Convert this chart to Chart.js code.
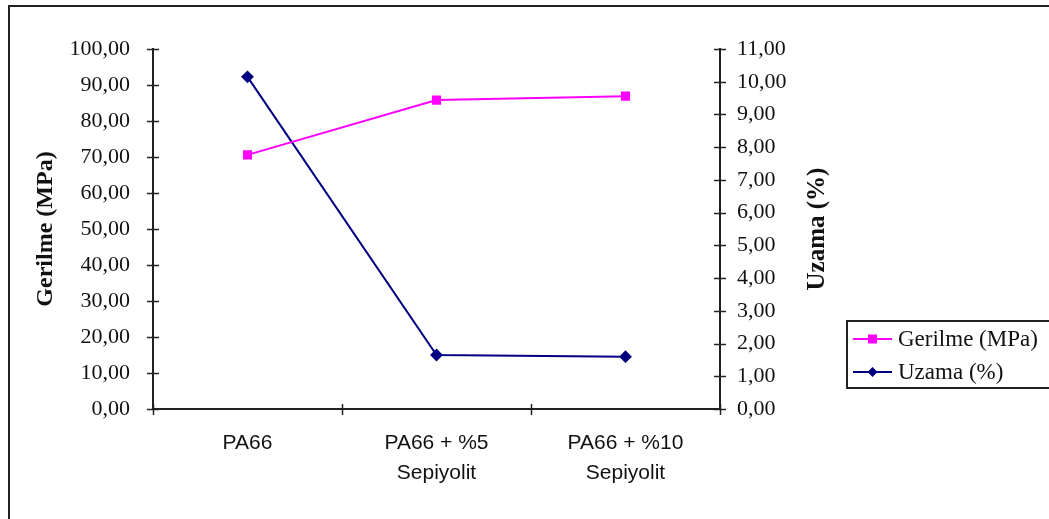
<!DOCTYPE html>
<html>
<head>
<meta charset="utf-8">
<script src="https://cdn.jsdelivr.net/npm/chart.js@4/dist/chart.umd.min.js"></script>
<style>
  html, body { margin: 0; padding: 0; background: #fff; }
  #wrap { width: 1049px; height: 519px; position: relative; }
</style>
</head>
<body>
<div id="wrap"><canvas id="c" width="1049" height="519"></canvas></div>
<script>
// ---- data ----
const categories = [["PA66"], ["PA66 + %5", "Sepiyolit"], ["PA66 + %10", "Sepiyolit"]];
const gerilmeLabel = "Gerilme (MPa)";
const uzamaLabel = "Uzama (%)";
const gerilmeValues = [70.6, 85.8, 86.9];
const uzamaValues = [10.15, 1.65, 1.6];
const leftAxisTitle = "Gerilme (MPa)";
const rightAxisTitle = "Uzama (%)";
const leftMin = 0, leftMax = 100, leftStep = 10;
const rightMin = 0, rightMax = 11, rightStep = 1;

const PINK = '#FF00FF';
const NAVY = '#000080';
const serif = "'Liberation Serif', 'Times New Roman', serif";
const sans = "'Liberation Sans', Arial, sans-serif";
const fmt = v => Number(v).toFixed(2).replace('.', ',');

const decorPlugin = {
  id: 'decor',
  beforeDraw(chart) {
    const ctx = chart.ctx;
    ctx.save();
    ctx.fillStyle = '#fff';
    ctx.fillRect(0, 0, chart.width, chart.height);
    ctx.strokeStyle = '#222';
    ctx.lineWidth = 2;
    ctx.strokeRect(9, 6, 1200, 700);
    ctx.restore();
  },
  afterDraw(chart) {
    const ctx = chart.ctx;
    const {x, y, y1} = chart.scales;
    ctx.save();
    ctx.strokeStyle = '#222';
    ctx.lineWidth = 1.5;
    // tick marks crossing axes
    y.ticks.forEach((t, i) => {
      const py = Math.round(y.getPixelForTick(i)) + 0.5;
      ctx.beginPath(); ctx.moveTo(x.left - 6, py); ctx.lineTo(x.left + 6, py); ctx.stroke();
    });
    y1.ticks.forEach((t, i) => {
      const py = Math.round(y1.getPixelForTick(i)) + 0.5;
      ctx.beginPath(); ctx.moveTo(x.right - 6, py); ctx.lineTo(x.right + 6, py); ctx.stroke();
    });
    for (let i = 0; i <= categories.length; i++) {
      const px = Math.round(x.getPixelForValue(i - 0.5)) + 0.5;
      ctx.beginPath(); ctx.moveTo(px, y.bottom - 5); ctx.lineTo(px, y.bottom + 6); ctx.stroke();
    }
    // right axis title (reads bottom-to-top)
    ctx.save();
    ctx.translate(818, (chart.chartArea.top + chart.chartArea.bottom) / 2);
    ctx.rotate(-Math.PI / 2);
    ctx.font = "bold 25px " + serif;
    ctx.fillStyle = '#111';
    ctx.textAlign = 'center';
    ctx.textBaseline = 'middle';
    ctx.fillText(rightAxisTitle, 0, 0);
    ctx.restore();
    // legend
    ctx.lineWidth = 2;
    ctx.strokeStyle = '#222';
    ctx.strokeRect(847, 321, 300, 67);
    chart.data.datasets.forEach((ds, i) => {
      const ry = 339 + i * 33;
      ctx.strokeStyle = ds.borderColor;
      ctx.lineWidth = 2;
      ctx.beginPath(); ctx.moveTo(853, ry); ctx.lineTo(892, ry); ctx.stroke();
      ctx.fillStyle = ds.backgroundColor;
      if (ds.pointStyle === 'rect') {
        ctx.fillRect(868, ry - 4.5, 9, 9);
      } else {
        ctx.beginPath();
        ctx.moveTo(872.5, ry - 5); ctx.lineTo(877.5, ry); ctx.lineTo(872.5, ry + 5); ctx.lineTo(867.5, ry);
        ctx.closePath(); ctx.fill();
      }
      ctx.fillStyle = '#111';
      ctx.font = "23px " + serif;
      ctx.textAlign = 'left';
      ctx.textBaseline = 'middle';
      ctx.fillText(ds.label, 898, ry + 1);
    });
    ctx.restore();
  }
};

new Chart(document.getElementById('c'), {
  type: 'line',
  data: {
    labels: categories,
    datasets: [
      {
        label: gerilmeLabel, data: gerilmeValues, yAxisID: 'y',
        borderColor: PINK, backgroundColor: PINK, borderWidth: 2,
        pointStyle: 'rect', pointRadius: 5, pointHoverRadius: 5, tension: 0
      },
      {
        label: uzamaLabel, data: uzamaValues, yAxisID: 'y1',
        borderColor: NAVY, backgroundColor: NAVY, borderWidth: 2,
        pointStyle: 'rectRot', pointRadius: 5, pointHoverRadius: 5, tension: 0
      }
    ]
  },
  options: {
    responsive: false,
    animation: false,
    events: [],
    layout: { padding: { left: 0, top: 49, right: 209, bottom: 0 } },
    plugins: { legend: { display: false }, tooltip: { enabled: false } },
    scales: {
      x: {
        type: 'category',
        offset: true,
        grid: { display: false, offset: true },
        border: { display: true, color: '#222', width: 2 },
        ticks: { color: '#111', font: { family: sans, size: 21, lineHeight: 1.4 }, padding: 12, maxRotation: 0, autoSkip: false },
        afterFit: s => { s.height = 110; }
      },
      y: {
        position: 'left',
        min: leftMin, max: leftMax,
        grid: { display: false, drawTicks: false },
        border: { display: true, color: '#222', width: 2 },
        ticks: { stepSize: leftStep, color: '#111', font: { family: serif, size: 22 }, padding: 23, callback: fmt },
        title: { display: true, text: leftAxisTitle, color: '#111', font: { family: serif, size: 24, weight: 'bold' }, padding: { top: 31, bottom: 0 } },
        afterFit: s => { s.width = 153; }
      },
      y1: {
        position: 'right',
        min: rightMin, max: rightMax,
        grid: { display: false, drawTicks: false },
        border: { display: true, color: '#222', width: 2 },
        ticks: { stepSize: rightStep, color: '#111', font: { family: serif, size: 22 }, padding: 17, callback: fmt },
        afterFit: s => { s.width = 120; }
      }
    }
  },
  plugins: [decorPlugin]
});
</script>
</body>
</html>
